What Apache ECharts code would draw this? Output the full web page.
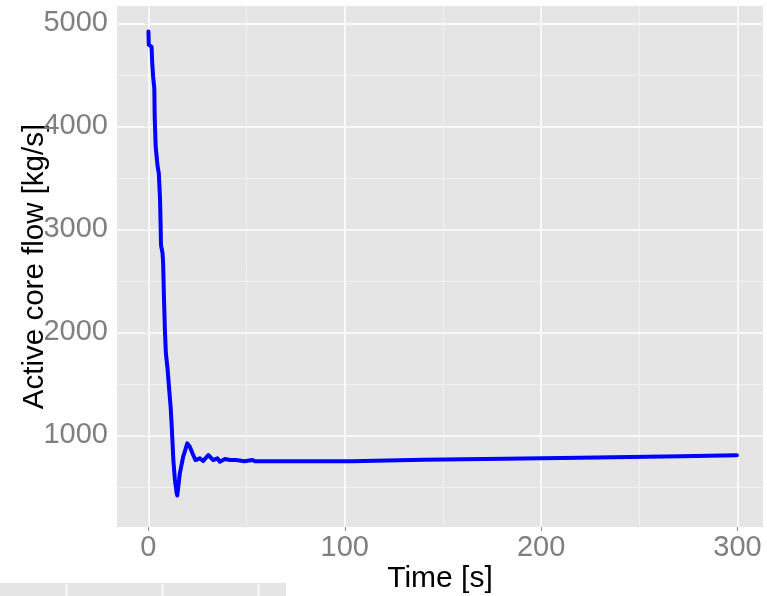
<!DOCTYPE html>
<html>
<head>
<meta charset="utf-8">
<script src="https://cdn.jsdelivr.net/npm/echarts@6/dist/echarts.min.js"></script>
<style>
html,body{margin:0;padding:0;background:#fff;}
#c{width:767px;height:596px;}
</style>
</head>
<body>
<div id="c"></div>
<script>
// ---- data ----
var timeS = [0, 0.2, 1.6, 1.9, 2.4, 3.0, 3.2, 3.7, 4.7, 5.3, 5.9, 6.2, 6.4, 7.2, 7.5, 7.9, 8.4, 8.9, 9.8, 10.6,
  11.3, 11.8, 12.7, 13.5, 14.4, 14.7, 16.0, 17.7, 19.8, 20.3, 21.1, 22.8, 24.0, 26.2, 27.9, 30.5, 33.0, 35.1,
  36.4, 39.0, 41.5, 44.6, 45.0, 49.0, 49.2, 49.5, 53.0, 54.5, 103.5, 103.6, 140.0, 140.1, 181.6, 181.7,
  219.5, 219.6, 271.3, 271.4, 299.7];
var coreFlow = [4920, 4790, 4773, 4627, 4482, 4369, 4093, 3802, 3608, 3544, 3301, 3058, 2848, 2767, 2670, 2346,
  2022, 1796, 1634, 1440, 1278, 1117, 760, 566, 437, 415, 631, 792, 922, 928, 889, 809, 760, 777, 750, 809,
  760, 777, 744, 770, 760, 760, 748, 748, 762, 748, 760, 748, 748, 763, 763, 773, 773, 783, 783, 796, 796,
  806, 806];
var xTicks = [0, 100, 200, 300];
var xMinor = [50, 150, 250];
var yTicks = [1000, 2000, 3000, 4000, 5000];
var yMinor = [500, 1500, 2500, 3500, 4500];

var seriesData = timeS.map(function (t, i) { return [t, coreFlow[i]]; });

function gl(key, color, width) {
  return function (v) {
    var o = { lineStyle: { color: color, width: width, type: 'solid' } };
    o[key] = v;
    return o;
  };
}
var gridLines = []
  .concat(xMinor.map(gl('xAxis', '#F2F2F2', 1)))
  .concat(yMinor.map(gl('yAxis', '#F2F2F2', 1)))
  .concat(xTicks.map(gl('xAxis', '#FFFFFF', 1.5)))
  .concat(yTicks.map(gl('yAxis', '#FFFFFF', 1.5)));

var font = '"Liberation Sans", Arial, sans-serif';
function plain(v) { return String(v); }

var chart = echarts.init(document.getElementById('c'), null, { renderer: 'canvas' });
chart.setOption({
  animation: false,
  backgroundColor: '#FFFFFF',
  grid: {
    left: 117, right: 4, top: 6, bottom: 69,
    outerBoundsMode: 'none', containLabel: false,
    show: true, backgroundColor: '#E5E5E5', borderWidth: 0
  },
  xAxis: {
    type: 'value', min: -16, max: 313,
    axisLine: { show: false },
    splitLine: { show: false },
    axisTick: { show: true, length: 4, customValues: xTicks, lineStyle: { color: '#8A8A8A', width: 1 } },
    axisLabel: { customValues: xTicks, formatter: plain, color: '#7F7F7F', fontSize: 29, fontFamily: font, margin: 6 },
    name: 'Time [s]', nameLocation: 'middle', nameGap: 37, nameMoveOverlap: false,
    nameTextStyle: { color: '#000000', fontSize: 30, fontFamily: font }
  },
  yAxis: {
    type: 'value', min: 110, max: 5168,
    axisLine: { show: false },
    splitLine: { show: false },
    axisTick: { show: true, length: 4, customValues: yTicks, lineStyle: { color: '#8A8A8A', width: 1 } },
    axisLabel: { customValues: yTicks, formatter: plain, color: '#7F7F7F', fontSize: 29, fontFamily: font, margin: 9 },
    name: 'Active core flow [kg/s]', nameLocation: 'middle', nameGap: 67, nameMoveOverlap: false,
    nameTextStyle: { color: '#000000', fontSize: 29.5, fontFamily: font }
  },
  graphic: [
    { type: 'rect', shape: { x: 0, y: 583, width: 286, height: 13 }, style: { fill: '#E5E5E5' }, silent: true },
    { type: 'line', shape: { x1: 66.5, y1: 583, x2: 66.5, y2: 596 }, style: { stroke: '#FFFFFF', lineWidth: 1.5 }, silent: true },
    { type: 'line', shape: { x1: 162.5, y1: 583, x2: 162.5, y2: 596 }, style: { stroke: '#FFFFFF', lineWidth: 1.5 }, silent: true },
    { type: 'line', shape: { x1: 258.5, y1: 583, x2: 258.5, y2: 596 }, style: { stroke: '#FFFFFF', lineWidth: 1.5 }, silent: true }
  ],
  series: [
    {
      type: 'line', z: 1, data: [], silent: true,
      markLine: { silent: true, z: 1, symbol: ['none', 'none'], label: { show: false },
        emphasis: { disabled: true }, animation: false, data: gridLines }
    },
    {
      type: 'line', z: 3, data: seriesData, showSymbol: false, symbol: 'none',
      lineStyle: { color: '#0000FF', width: 4, join: 'round', cap: 'round' },
      itemStyle: { color: '#0000FF' }
    }
  ]
});
</script>
</body>
</html>
